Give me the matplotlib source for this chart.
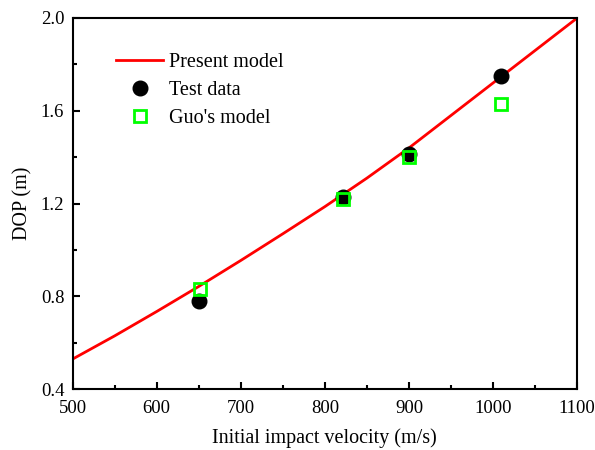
#%% Imports
import matplotlib
matplotlib.use('Agg')
import matplotlib.pyplot as plt
from matplotlib.ticker import MultipleLocator

#%% Data
model_v = [500, 550, 600, 650, 700, 750, 800, 850, 900, 950, 1000, 1050, 1100]
model_dop = [0.53, 0.63, 0.735, 0.843, 0.955, 1.07, 1.187, 1.31, 1.44, 1.58, 1.72, 1.86, 2.0]
test_v = [650, 822, 900, 1010]
test_dop = [0.78, 1.228, 1.413, 1.75]
guo_v = [651, 822, 900, 1010]
guo_dop = [0.831, 1.218, 1.403, 1.63]

#%% Plot
plt.rcParams['font.family'] = ['Liberation Serif', 'DejaVu Serif']
fig = plt.figure(figsize=(5.95, 4.5), dpi=100)
ax = fig.add_axes([0.122, 0.135, 0.848, 0.825])

ax.plot(model_v, model_dop, color='#ff0000', linewidth=2, label='Present model')
ax.plot(test_v, test_dop, 'o', color='black', markersize=10.5, linestyle='none', label='Test data')
ax.plot(guo_v, guo_dop, 's', markerfacecolor='none', markeredgecolor='#00ff00', markeredgewidth=2,
        markersize=8.5, linestyle='none', label="Guo's model")

ax.set_xlim(500, 1100)
ax.set_ylim(0.4, 2.0)
ax.xaxis.set_major_locator(MultipleLocator(100))
ax.xaxis.set_minor_locator(MultipleLocator(50))
ax.yaxis.set_major_locator(MultipleLocator(0.4))
ax.yaxis.set_minor_locator(MultipleLocator(0.2))
ax.tick_params(which='both', direction='in', width=1.5, labelsize=13.5, top=False, right=False)
ax.tick_params(axis='x', which='major', length=5, pad=8)
ax.tick_params(axis='y', which='major', length=5, pad=6)
ax.tick_params(which='minor', length=3)
for spine in ax.spines.values():
    spine.set_linewidth(1.5)

ax.set_xlabel('Initial impact velocity (m/s)', fontsize=14.5, labelpad=8)
ax.set_ylabel('DOP (m)', fontsize=14.5, labelpad=6)

ax.legend(loc='upper left', bbox_to_anchor=(0.087, 0.907), frameon=False, fontsize=14.5,
          handlelength=2.3, handletextpad=0.3, labelspacing=0.45, borderaxespad=0, borderpad=0)

fig.savefig('out.png', dpi=100)
